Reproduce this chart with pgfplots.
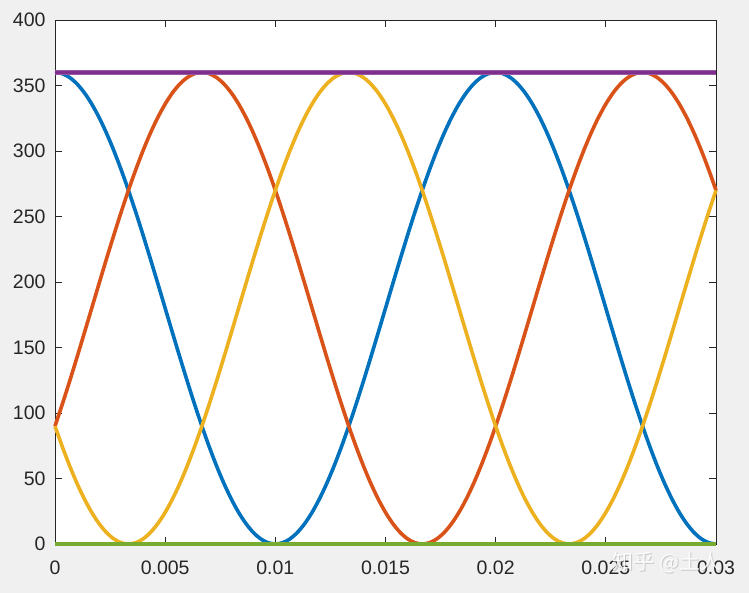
\documentclass[border=0pt]{standalone}
\usepackage{pgfplots}
\usepackage{pgfplotstable}
\pgfplotsset{compat=1.18}
\usetikzlibrary{backgrounds,calc}
\usepackage{fontspec}
\setmainfont{Liberation Sans}
\newfontfamily\cjk{Noto Sans CJK SC}
\definecolor{bgc}{RGB}{240,240,240}
\definecolor{axc}{RGB}{38,38,38}
\definecolor{mblue}{rgb}{0,0.447,0.741}
\definecolor{morange}{rgb}{0.85,0.325,0.098}
\definecolor{myellow}{rgb}{0.929,0.694,0.125}
\definecolor{mpurple}{rgb}{0.494,0.184,0.556}
\definecolor{mgreen}{rgb}{0.466,0.674,0.188}
\pgfplotstableread{
t        a       b       c
0        360     90      90
0.000333 359.01  106.79  74.20
0.000667 356.07  124.38  59.56
0.001    351.19  142.58  46.23
0.001333 344.44  161.18  34.38
0.001667 335.88  180     24.12
0.002    325.62  198.82  15.56
0.002333 313.77  217.42  8.81
0.002667 300.44  235.62  3.93
0.003    285.80  253.21  0.99
0.003333 270     270     0
0.003667 253.21  285.80  0.99
0.004    235.62  300.44  3.93
0.004333 217.42  313.77  8.81
0.004667 198.82  325.62  15.56
0.005    180     335.88  24.12
0.005333 161.18  344.44  34.38
0.005667 142.58  351.19  46.23
0.006    124.38  356.07  59.56
0.006333 106.79  359.01  74.20
0.006667 90      360     90
0.007    74.20   359.01  106.79
0.007333 59.56   356.07  124.38
0.007667 46.23   351.19  142.58
0.008    34.38   344.44  161.18
0.008333 24.12   335.88  180
0.008667 15.56   325.62  198.82
0.009    8.81    313.77  217.42
0.009333 3.93    300.44  235.62
0.009667 0.99    285.80  253.21
0.01     0       270     270
0.010333 0.99    253.21  285.80
0.010667 3.93    235.62  300.44
0.011    8.81    217.42  313.77
0.011333 15.56   198.82  325.62
0.011667 24.12   180     335.88
0.012    34.38   161.18  344.44
0.012333 46.23   142.58  351.19
0.012667 59.56   124.38  356.07
0.013    74.20   106.79  359.01
0.013333 90      90      360
0.013667 106.79  74.20   359.01
0.014    124.38  59.56   356.07
0.014333 142.58  46.23   351.19
0.014667 161.18  34.38   344.44
0.015    180     24.12   335.88
0.015333 198.82  15.56   325.62
0.015667 217.42  8.81    313.77
0.016    235.62  3.93    300.44
0.016333 253.21  0.99    285.80
0.016667 270     0       270
0.017    285.80  0.99    253.21
0.017333 300.44  3.93    235.62
0.017667 313.77  8.81    217.42
0.018    325.62  15.56   198.82
0.018333 335.88  24.12   180
0.018667 344.44  34.38   161.18
0.019    351.19  46.23   142.58
0.019333 356.07  59.56   124.38
0.019667 359.01  74.20   106.79
0.02     360     90      90
0.020333 359.01  106.79  74.20
0.020667 356.07  124.38  59.56
0.021    351.19  142.58  46.23
0.021333 344.44  161.18  34.38
0.021667 335.88  180     24.12
0.022    325.62  198.82  15.56
0.022333 313.77  217.42  8.81
0.022667 300.44  235.62  3.93
0.023    285.80  253.21  0.99
0.023333 270     270     0
0.023667 253.21  285.80  0.99
0.024    235.62  300.44  3.93
0.024333 217.42  313.77  8.81
0.024667 198.82  325.62  15.56
0.025    180     335.88  24.12
0.025333 161.18  344.44  34.38
0.025667 142.58  351.19  46.23
0.026    124.38  356.07  59.56
0.026333 106.79  359.01  74.20
0.026667 90      360     90
0.027    74.20   359.01  106.79
0.027333 59.56   356.07  124.38
0.027667 46.23   351.19  142.58
0.028    34.38   344.44  161.18
0.028333 24.12   335.88  180
0.028667 15.56   325.62  198.82
0.029    8.81    313.77  217.42
0.029333 3.93    300.44  235.62
0.029667 0.99    285.80  253.21
0.03     0       270     270
}\wave
\pgfplotstableread{
t     p    g
0     360  0
0.03  360  0
}\flat
\begin{document}
\begin{tikzpicture}
\begin{axis}[
  width=661pt, height=524pt, scale only axis,
  xmin=0, xmax=0.03, ymin=0, ymax=400,
  xtick={0,0.005,0.01,0.015,0.02,0.025,0.03},
  ytick={0,50,...,400},
  scaled x ticks=false,
  /pgf/number format/assume math mode=true,
  xticklabel style={/pgf/number format/fixed,/pgf/number format/precision=3},
  tick label style={font=\fontsize{19.5}{22}\selectfont, text=axc},
  tick align=inside, major tick length=7pt,
  every tick/.style={axc, line width=0.7pt},
  axis line style={axc, line width=0.9pt},
  axis background/.style={fill=white},
  xticklabel shift=13pt, yticklabel shift=6pt,
  clip=false,
]
\coordinate (ll) at (rel axis cs:0,0);
\addplot[mblue, line width=3.6pt, smooth] table[x=t,y=a]{\wave};
\addplot[morange, line width=3.6pt, smooth] table[x=t,y=b]{\wave};
\addplot[myellow, line width=3.6pt, smooth] table[x=t,y=c]{\wave};
\addplot[mpurple!80, line width=5pt] table[x=t,y=p]{\flat};
\addplot[mpurple, line width=3pt] table[x=t,y=p]{\flat};
\addplot[mgreen, line width=4.5pt] table[x=t,y=g]{\flat};
\end{axis}
\begin{scope}[on background layer]
\fill[bgc] ($(ll)+(-55pt,-49pt)$) rectangle ($(ll)+(694pt,544pt)$);
\end{scope}
\node[font=\cjk\fontsize{21}{24}\selectfont, text=gray, opacity=0.35] at ($(ll)+(613pt,-19pt)$) {知乎 @土人};
\node[font=\cjk\fontsize{21}{24}\selectfont, text=white, opacity=0.9] at ($(ll)+(612pt,-18pt)$) {知乎 @土人};
\end{tikzpicture}
\end{document}
